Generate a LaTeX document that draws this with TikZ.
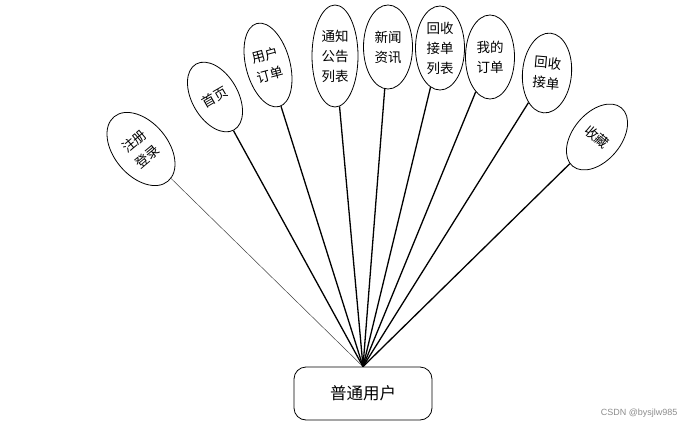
\documentclass[tikz,border=0pt]{standalone}
\usepackage{fontspec}
\newfontfamily\cjk{Noto Sans CJK SC}
\newfontfamily\wmfont{Liberation Sans}
\usetikzlibrary{shapes.geometric}
\tikzset{
  bub/.style={ellipse,draw,line width=0.8pt,inner sep=0pt,align=center,
    font=\cjk\fontsize{13.5}{20}\selectfont},
  spoke/.style={line width=1.3pt},
  faintspoke/.style={line width=0.5pt,draw=black!75},
  rolebox/.style={draw,rounded corners=12pt,line width=0.8pt,minimum width=138pt,
    minimum height=53pt,font=\cjk\fontsize{16.5}{20}\selectfont},
}
\begin{document}
\begin{tikzpicture}[x=1pt,y=1pt]
\useasboundingbox (0,0) rectangle (687,-428);
\node[bub,minimum width=54pt,minimum height=84pt,rotate=40] (e1) at (141,-149) {注册\\登录};
\node[bub,minimum width=46pt,minimum height=76pt,rotate=30] (e2) at (215,-97) {首页};
\node[bub,minimum width=44pt,minimum height=86pt,rotate=15] (e3) at (268,-65) {用户\\订单};
\node[bub,minimum width=46pt,minimum height=102pt] (e4) at (335,-56) {通知\\公告\\列表};
\node[bub,minimum width=49pt,minimum height=84pt] (e5) at (388,-47) {新闻\\资讯};
\node[bub,minimum width=49pt,minimum height=84pt] (e6) at (440,-48) {回收\\接单\\列表};
\node[bub,minimum width=49pt,minimum height=84pt] (e7) at (490,-57) {我的\\订单};
\node[bub,minimum width=49pt,minimum height=80pt,rotate=-5] (e8) at (547,-73) {回收\\接单};
\node[bub,minimum width=48pt,minimum height=76pt,rotate=-40] (e9) at (597,-137) {收藏};
\node[rolebox] (u) at (363,-393.5) {普通用户};
\draw[faintspoke] (e1) -- (u.north);
\foreach \e in {e2,e3,e4,e5,e6,e7,e8,e9}
  \draw[spoke] (\e) -- (u.north);
\node[font=\wmfont\fontsize{9}{10}\selectfont,text=black!45,anchor=east] (wm) at (681,-413) {CSDN @bysjlw985};
\end{tikzpicture}
\end{document}
